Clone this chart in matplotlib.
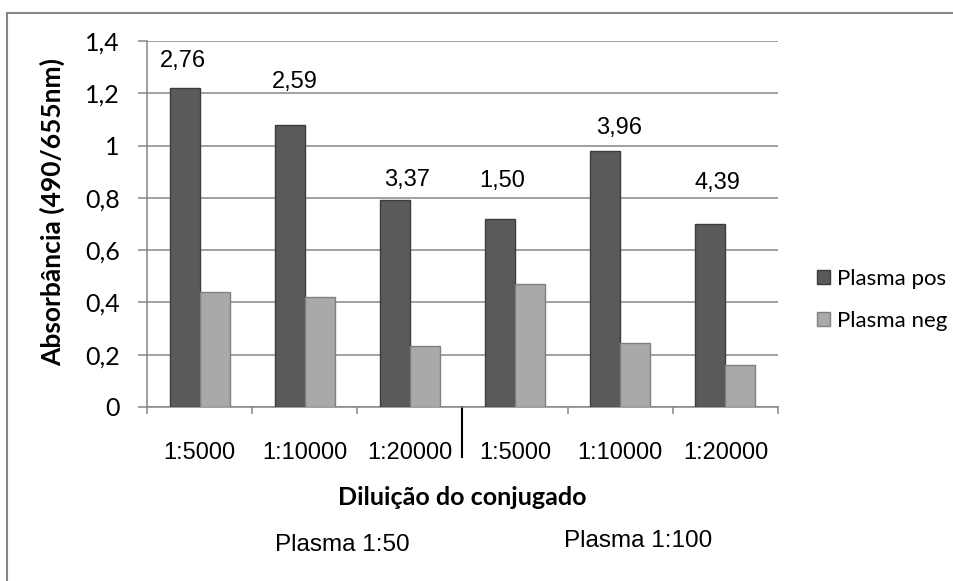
import numpy as np
import matplotlib.pyplot as plt
import matplotlib.transforms as mtransforms
from matplotlib.patches import Rectangle

# data
categories = ['1:5000', '1:10000', '1:20000', '1:5000', '1:10000', '1:20000']
plasma_pos = [1.22, 1.08, 0.79, 0.72, 0.98, 0.70]
plasma_neg = [0.44, 0.42, 0.235, 0.47, 0.245, 0.16]
ratio_labels = ['2,76', '2,59', '3,37', '1,50', '3,96', '4,39']
group_labels = ['Plasma 1:50', 'Plasma 1:100']

# where the ratio text boxes sit (offset from category centre, height)
label_dx = [-0.16, -0.09, -0.03, -0.12, -0.01, -0.08]
label_y = [1.322, 1.245, 0.870, 0.866, 1.069, 0.858]

W, H = 954, 581
fig = plt.figure(figsize=(W / 100, H / 100), dpi=100)
ax = fig.add_axes([147 / W, 1 - 407 / H, (778 - 147) / W, (407 - 41) / H])

grid_c = '#868686'
x = np.arange(len(categories))
w = 0.285

ax.bar(x - w / 2, plasma_pos, w, color='#5a5a5a', edgecolor='#3c3c3c',
       linewidth=1.0, label='Plasma pos', zorder=3)
ax.bar(x + w / 2, plasma_neg, w, color='#a9a9a9', edgecolor='#808080',
       linewidth=1.0, label='Plasma neg', zorder=3)

for i, txt in enumerate(ratio_labels):
    ax.text(x[i] + label_dx[i], label_y[i], txt, ha='center', va='center',
            fontsize=17, family='Liberation Sans', zorder=4)

ax.set_xlim(-0.5, len(categories) - 0.5)
ax.set_ylim(0, 1.4)
ax.set_yticks(np.arange(0, 1.41, 0.2))
ax.set_yticklabels(['0', '0,2', '0,4', '0,6', '0,8', '1', '1,2', '1,4'],
                   family='Lato', fontsize=18)
ax.set_xticks(x)
ax.set_xticklabels(categories, family='Liberation Sans', fontsize=17)
ax.set_xticks(np.arange(-0.5, len(categories)), minor=True)
ax.tick_params(axis='x', which='major', length=0, pad=25)
ax.tick_params(axis='x', which='minor', length=5, color=grid_c, width=1.1)
ax.tick_params(axis='y', length=6.5, color=grid_c, width=1.1, pad=13)

ax.grid(axis='y', color=grid_c, linewidth=1.1, zorder=0)
ax.set_axisbelow(True)
for s in ['top', 'right']:
    ax.spines[s].set_visible(False)
for s in ['left', 'bottom']:
    ax.spines[s].set_color(grid_c)
    ax.spines[s].set_linewidth(1.1)

# separator between the two plasma dilutions
trans = mtransforms.blended_transform_factory(ax.transData, ax.transAxes)
ax.plot([2.5, 2.5], [0, -50 / 366], color='black', lw=1.5,
        transform=trans, clip_on=False)

ax.set_xlabel('Diluição do conjugado', family='Lato', fontweight='bold',
              fontsize=18, labelpad=16)
fig.text(52 / W, 1 - 212 / H, 'Absorbância (490/655nm)', rotation=90,
         ha='center', va='center', family='Lato', fontweight='bold', fontsize=19)

fig.text(342 / W, 1 - 545 / H, group_labels[0], ha='center', va='center',
         family='Liberation Sans', fontsize=17.5)
fig.text(638 / W, 1 - 541 / H, group_labels[1], ha='center', va='center',
         family='Liberation Sans', fontsize=17.5)

fig.legend(loc='center left', bbox_to_anchor=(808 / W, 1 - 300 / H),
           frameon=False, prop={'family': 'Lato', 'size': 16},
           handlelength=0.6, handleheight=0.6, handletextpad=0.3,
           labelspacing=1.0, borderaxespad=0)

# outer chart border (cut off at right and bottom in the reference)
fig.patches.append(Rectangle((7 / W, -0.1), 1.2, 1 - 13 / H + 0.1,
                             transform=fig.transFigure, fill=False,
                             edgecolor=grid_c, linewidth=1.5))

fig.savefig('out.png', dpi=100)
